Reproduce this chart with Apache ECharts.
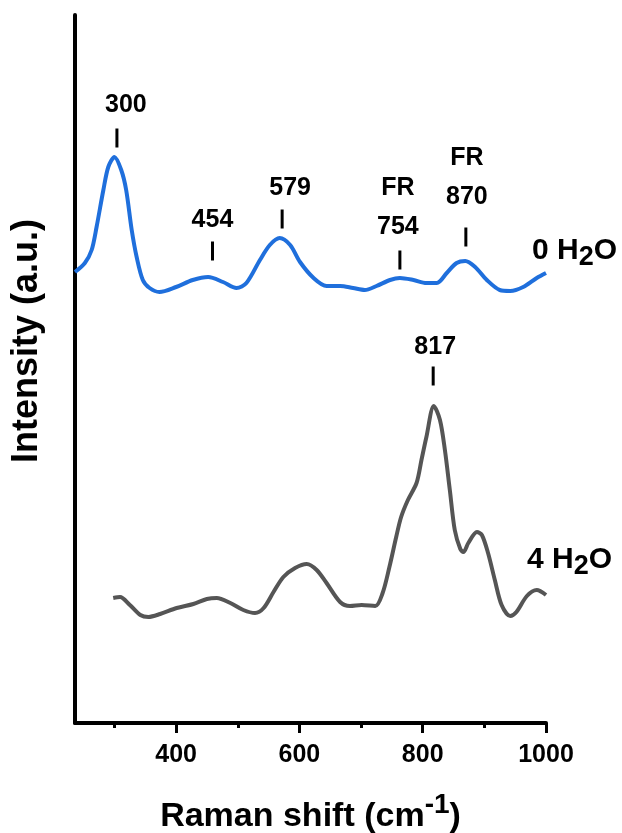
<!DOCTYPE html>
<html>
<head>
<meta charset="utf-8">
<script src="https://cdn.jsdelivr.net/npm/echarts@6/dist/echarts.min.js"></script>
<style>
html,body{margin:0;padding:0;background:#fff;}
#chart{width:622px;height:833px;}
</style>
</head>
<body>
<div id="chart"></div>
<script>
// ---- data (Raman shift in cm-1, intensity in arbitrary units) ----
const blueName = '0 H2O';
const blueX = [236,252,263,271,282,290,300,311,319,328,336,346,357,373,400,427,452,476,498,514,536,552,568,585,601,623,644,666,687,706,725,747,763,785,806,823,839,855,869,885,904,925,942,963,985,1000];
const blueY = [451,460,473,496,533,556,566,553,533,493,466,443,435,431,436,443,446,441,435,440,463,478,485,478,461,445,437,437,435,433,437,443,445,443,440,440,450,460,462,456,443,433,432,436,445,450];

const grayName = '4 H2O';
const grayX = [298,309,325,342,355,374,401,428,450,466,488,509,528,542,558,574,593,612,628,644,666,682,701,723,735,746,757,765,776,790,798,806,818,828,836,844,852,861,866,874,888,896,906,917,928,942,952,969,985,1000];
const grayY = [125,126,118,108,106,109,115,119,124,125,120,113,110,115,131,146,155,159,153,140,121,117,118,117,130,156,186,206,223,240,263,286,317,303,273,233,193,174,171,180,191,188,170,143,118,107,111,127,133,128];

// peak annotations: tick mark position and label text
const peakLabels = ['300','454','579','FR\n754','FR\n870','817'];
const peakX = [304,459,572,763,870,817];
const peakY = [585,472,504,463,486,347];

// axis ticks
const majorTicks = [400,600,800,1000];
const minorTicks = [300,500,700,900];

// ---- styles ----
const FONT = 'Liberation Sans';
const labelNudge = { '300':[9,-1], '454':[0,1], '579':[8,1], 'FR\n754':[-2,-1], 'FR\n870':[1,-8], '817':[2,3] };

function zip(xs, ys){ return xs.map((x,i)=>[x, ys[i]]); }
function richName(n){ // "0 H2O" -> rich text with subscript 2
  const parts = n.split('H2O');
  return '{a|' + parts[0] + 'H}{s|2}{a|O}';
}
const h2oRich = {
  a:{fontFamily:FONT,fontWeight:'bold',fontSize:30,lineHeight:30,color:'#000',verticalAlign:'top'},
  s:{fontFamily:FONT,fontWeight:'bold',fontSize:27,lineHeight:27,color:'#000',verticalAlign:'top',padding:[8,0,0,0]}
};

const peakData = peakLabels.map((t,i)=>({
  value:[peakX[i], peakY[i]],
  name:t,
  label:{offset: labelNudge[t] || [0,0]}
}));

const chart = echarts.init(document.getElementById('chart'), null, {renderer:'canvas'});
chart.setOption({
  animation:false,
  backgroundColor:'#fff',
  grid:{left:75,right:76,top:15,bottom:110,outerBoundsMode:'none'},
  xAxis:[{
    type:'value', min:236, max:1000,
    axisLine:{show:true,lineStyle:{color:'#000',width:4}},
    axisTick:{show:true,customValues:majorTicks,length:10,lineStyle:{color:'#000',width:3}},
    axisLabel:{show:true,customValues:majorTicks,margin:20,formatter:v=>String(v),
      fontFamily:FONT,fontWeight:'bold',fontSize:25,color:'#000'},
    splitLine:{show:false},
    name:'{a|Raman shift (cm}{sup|-1}{a|)}',
    nameLocation:'middle', nameGap:77,
    nameTextStyle:{rich:{
      a:{fontFamily:FONT,fontWeight:'bold',fontSize:34,lineHeight:34,color:'#000',verticalAlign:'bottom'},
      sup:{fontFamily:FONT,fontWeight:'bold',fontSize:28,lineHeight:28,color:'#000',verticalAlign:'bottom',padding:[0,0,15,0]}
    }}
  },{
    type:'value', min:236, max:1000, position:'bottom',
    axisLine:{show:false},
    axisTick:{show:true,customValues:minorTicks,length:5,lineStyle:{color:'#000',width:3}},
    axisLabel:{show:false},
    splitLine:{show:false}
  }],
  yAxis:{
    type:'value', min:0, max:708,
    axisLine:{show:true,lineStyle:{color:'#000',width:4}},
    axisTick:{show:false}, axisLabel:{show:false}, splitLine:{show:false},
    name:'Intensity (a.u.)', nameLocation:'middle', nameGap:30,
    nameTextStyle:{fontFamily:FONT,fontWeight:'bold',fontSize:36,color:'#000',padding:[0,0,0,56]}
  },
  series:[
    {
      name:blueName, type:'line', data:zip(blueX, blueY), smooth:0.3, showSymbol:false,
      lineStyle:{color:'#1f6fdc',width:4}, itemStyle:{color:'#1f6fdc'},
      endLabel:{show:true, formatter:()=>richName(blueName), offset:[-22,-22], rich:h2oRich}
    },
    {
      name:grayName, type:'line', data:zip(grayX, grayY), smooth:0.3, showSymbol:false,
      lineStyle:{color:'#555555',width:4}, itemStyle:{color:'#555555'},
      endLabel:{show:true, formatter:()=>richName(grayName), offset:[-27,-35], rich:h2oRich}
    },
    {
      name:'peaks', type:'scatter', data:peakData,
      symbol:'rect', symbolSize:[3,19], itemStyle:{color:'#000',opacity:1},
      label:{show:true, position:'top', distance:3, formatter:p=>p.name, opacity:1,
        fontFamily:FONT, fontWeight:'bold', fontSize:25, lineHeight:39, color:'#000', align:'center'},
      emphasis:{disabled:true}, z:5
    }
  ]
});
</script>
</body>
</html>
